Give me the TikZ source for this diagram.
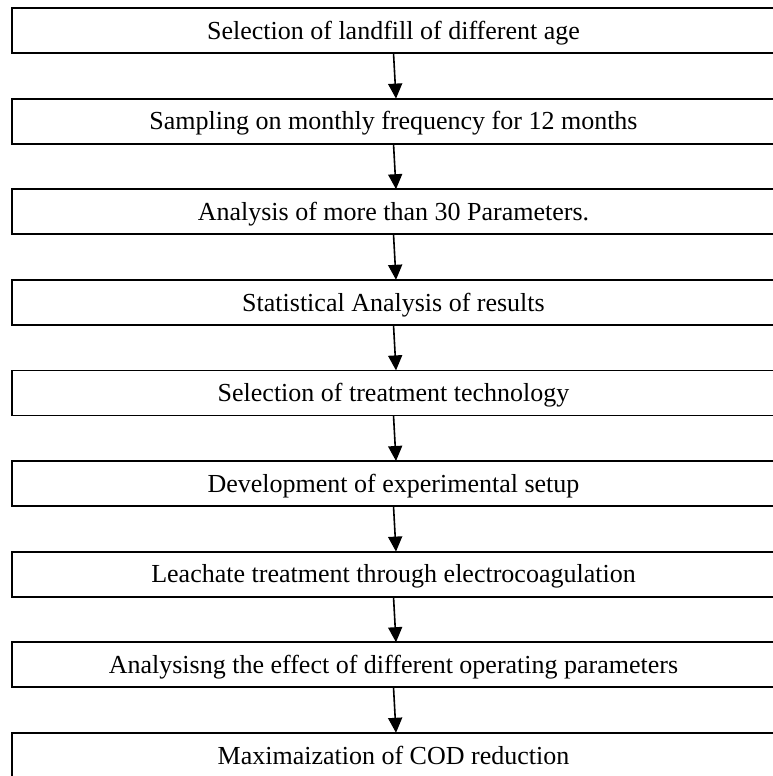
\documentclass[tikz,border=0pt]{standalone}
\usepackage{fontspec}
\setmainfont{Liberation Serif}
\usepackage{tikz}
\usetikzlibrary{arrows.meta}
\tikzset{>/.tip={Triangle[width=14pt,length=15pt]}}
\tikzset{stage/.style={draw, line width=1.8pt, minimum width=775.6pt, minimum height=45pt,
  inner sep=0pt, outer sep=0pt, text height=21pt, text depth=3.4pt,
  execute at begin node=\hspace*{-12pt},
  font=\fontsize{26}{30}\selectfont}}

\begin{document}
\begin{tikzpicture}[x=1pt,y=1pt]
\useasboundingbox (0,0) rectangle (772,-776);
\node[stage] (site) at (399.5,-30.5)   {Selection of landfill of different age};
\node[stage] (samp) at (399.5,-121.1)  {Sampling on monthly frequency for 12 months};
\node[stage] (anal) at (399.5,-211.7)  {Analysis of more than 30 Parameters.};
\node[stage] (stat) at (399.5,-302.3)  {Statistical Analysis of results};
\node[stage] (tech) at (399.5,-392.9)  {Selection of treatment technology};
\node[stage] (setup) at (399.5,-483.5) {Development of experimental setup};
\node[stage] (ec) at (399.5,-574.1)    {Leachate treatment through electrocoagulation};
\node[stage] (param) at (399.5,-664.7) {Analysisng the effect of different operating parameters};
\node[stage] (cod) at (399.5,-755.3)   {Maximaization of COD reduction};

\draw[->, line width=1.6pt] ([xshift=-6pt]site.south) -- ([xshift=-3.5pt]samp.north);
\draw[->, line width=1.6pt] ([xshift=-6pt]samp.south) -- ([xshift=-3.5pt]anal.north);
\draw[->, line width=1.6pt] ([xshift=-6pt]anal.south) -- ([xshift=-3.5pt]stat.north);
\draw[->, line width=1.6pt] ([xshift=-6pt]stat.south) -- ([xshift=-3.5pt]tech.north);
\draw[->, line width=1.6pt] ([xshift=-6pt]tech.south) -- ([xshift=-3.5pt]setup.north);
\draw[->, line width=1.6pt] ([xshift=-6pt]setup.south) -- ([xshift=-3.5pt]ec.north);
\draw[->, line width=1.6pt] ([xshift=-6pt]ec.south) -- ([xshift=-3.5pt]param.north);
\draw[->, line width=1.6pt] ([xshift=-6pt]param.south) -- ([xshift=-3.5pt]cod.north);
\end{tikzpicture}
\end{document}
